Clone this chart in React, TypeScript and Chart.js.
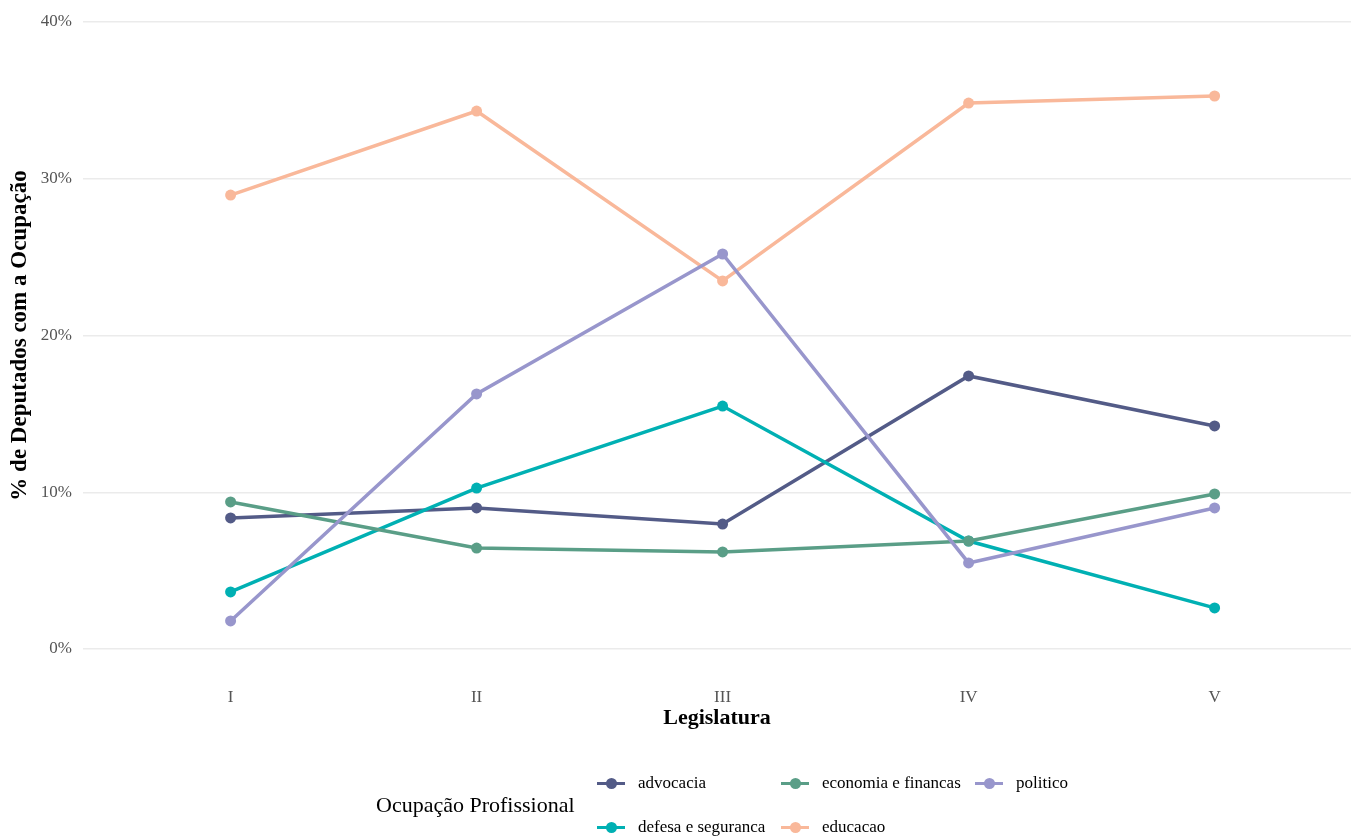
import React, { useEffect, useRef } from "react";
import { Chart, registerables } from "chart.js";

Chart.register(...registerables);

const legislaturas = ["I", "II", "III", "IV", "V"];
const yTicks = [0, 10, 20, 30, 40];

const advocacia = [8.36, 9.0, 7.97, 17.42, 14.23];
const defesa = [3.64, 10.27, 15.5, 6.89, 2.62];
const economia = [9.38, 6.44, 6.19, 6.89, 9.89];
const educacao = [28.96, 34.32, 23.48, 34.83, 35.28];
const politico = [1.79, 16.27, 25.2, 5.49, 9.0];

const seriesNames = ["advocacia", "defesa e seguranca", "economia e financas", "educacao", "politico"];
const seriesValues = [advocacia, defesa, economia, educacao, politico];
const seriesColors = ["#535b87", "#00b0b3", "#5a9e87", "#f9b89a", "#9896cc"];

const FONT = "'Liberation Serif', 'Times New Roman', serif";

export default function App() {
  const ref = useRef<HTMLCanvasElement>(null);

  useEffect(() => {
    if (!ref.current) return;
    const n = seriesNames.length;
    const chart = new Chart(ref.current, {
      type: "line",
      data: {
        datasets: seriesNames.map((name, i) => ({
          label: name,
          data: seriesValues[i].map((v, j) => ({ x: j, y: v })),
          borderColor: seriesColors[i],
          backgroundColor: seriesColors[i],
          pointBackgroundColor: seriesColors[i],
          pointBorderWidth: 0,
          pointRadius: 5.5,
          borderWidth: 3.5,
          tension: 0,
          clip: false,
          order: n - i,
        })),
      },
      options: {
        animation: false,
        responsive: false,
        devicePixelRatio: 1,
        layout: { autoPadding: false, padding: { top: 22, right: 0, bottom: 105, left: 0 } },
        plugins: { legend: { display: false }, tooltip: { enabled: false } },
        scales: {
          x: {
            type: "linear",
            min: -0.6,
            max: (1351 - 83) / 246 - 0.6,
            afterBuildTicks: (s: any) => {
              s.ticks = legislaturas.map((_, i) => ({ value: i }));
            },
            afterFit: (s: any) => {
              s.height = 83;
            },
            grid: { display: false, drawTicks: false },
            border: { display: false },
            ticks: {
              padding: 38,
              color: "#555555",
              font: { family: FONT, size: 17 },
              callback: (v: any) => legislaturas[Math.round(Number(v))] ?? "",
            },
            title: {
              display: true,
              text: "Legislatura",
              color: "#000000",
              padding: { top: 0, bottom: 0 },
              font: { family: FONT, size: 22, weight: "bold" },
            },
          },
          y: {
            min: 0,
            max: 40,
            afterBuildTicks: (s: any) => {
              s.ticks = yTicks.map((v) => ({ value: v }));
            },
            afterFit: (s: any) => {
              s.width = 83;
            },
            grid: { color: "#ebebeb", lineWidth: 1.5, drawTicks: false },
            border: { display: false },
            ticks: {
              padding: 11,
              color: "#555555",
              font: { family: FONT, size: 17 },
              callback: (v: any) => `${v}%`,
            },
            title: {
              display: true,
              text: "% de Deputados com a Ocupação",
              color: "#000000",
              padding: { top: 6, bottom: 0 },
              font: { family: FONT, size: 23, weight: "bold" },
            },
          },
        },
      },
    });
    return () => chart.destroy();
  }, []);

  const legendCols = [597, 781, 975];
  const legendRows = [783, 827];
  // column-major order like ggplot
  const legendItems = seriesNames.map((name, i) => ({
    name,
    color: seriesColors[i],
    col: Math.floor(i / 2),
    row: i % 2,
  }));

  return (
    <div style={{ position: "absolute", left: 0, top: 0, width: 1351, height: 837, background: "#ffffff", fontFamily: FONT }}>
      <canvas ref={ref} width={1351} height={837} style={{ position: "absolute", left: 0, top: 0 }} />
      <div
        style={{
          position: "absolute",
          left: 376,
          top: 805 - 14,
          height: 28,
          lineHeight: "28px",
          fontSize: 22,
          color: "#000",
          whiteSpace: "nowrap",
        }}
      >
        Ocupação Profissional
      </div>
      {legendItems.map((it) => (
        <div
          key={it.name}
          style={{
            position: "absolute",
            left: legendCols[it.col],
            top: legendRows[it.row] - 12,
            height: 24,
            display: "flex",
            alignItems: "center",
            whiteSpace: "nowrap",
          }}
        >
          <div style={{ position: "relative", width: 28, height: 24 }}>
            <div style={{ position: "absolute", left: 0, top: 10.5, width: 28, height: 3.5, background: it.color }} />
            <div style={{ position: "absolute", left: 8.5, top: 6.5, width: 11, height: 11, borderRadius: "50%", background: it.color }} />
          </div>
          <span style={{ marginLeft: 13, fontSize: 17, color: "#000", lineHeight: "24px" }}>{it.name}</span>
        </div>
      ))}
    </div>
  );
}
